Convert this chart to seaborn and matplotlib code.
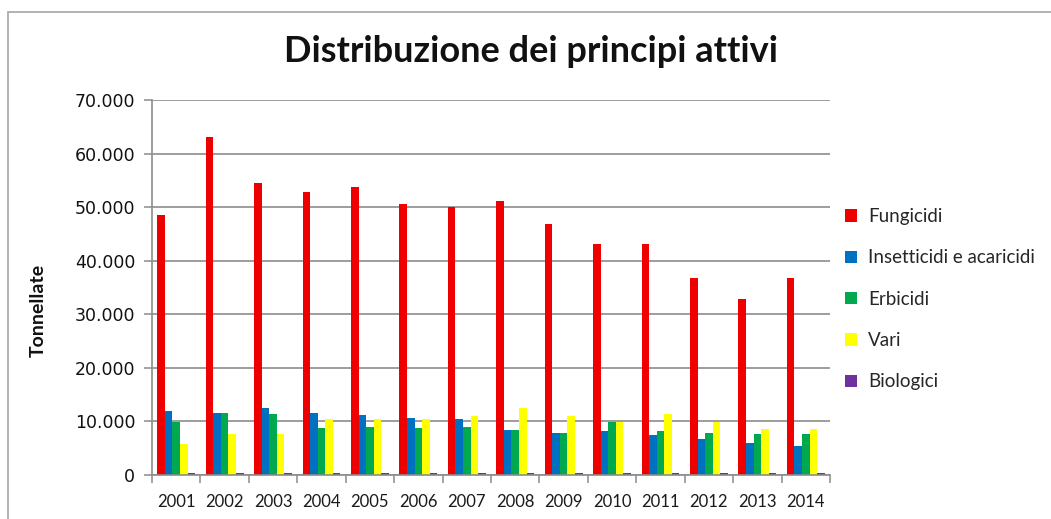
import matplotlib
matplotlib.use("Agg")
import matplotlib.pyplot as plt
import pandas as pd
import seaborn as sns
from matplotlib.patches import Rectangle
from matplotlib.ticker import FuncFormatter, FixedLocator

# Tonnes of active ingredients sold per year, by category
years = ["2001", "2002", "2003", "2004", "2005", "2006", "2007",
         "2008", "2009", "2010", "2011", "2012", "2013", "2014"]
fungicidi = [48500, 63150, 54600, 52900, 53800, 50650, 50100,
             51200, 46900, 43050, 43050, 36800, 32800, 36800]
insetticidi = [11950, 11650, 12600, 11650, 11200, 10700, 10450,
               8350, 7900, 8150, 7400, 6700, 5950, 5450]
erbicidi = [9950, 11650, 11450, 8850, 9000, 8850, 9000,
            8350, 7900, 9950, 8150, 7900, 7650, 7650]
vari = [5700, 7650, 7650, 10450, 10450, 10450, 11000,
        12450, 11000, 9950, 11400, 9950, 8600, 8600]
biologici = [300, 300, 300, 300, 300, 300, 300,
             300, 300, 300, 300, 300, 300, 300]

series_names = ["Fungicidi", "Insetticidi e acaricidi", "Erbicidi", "Vari", "Biologici"]
series_values = [fungicidi, insetticidi, erbicidi, vari, biologici]
colors = ["#EE0000", "#0070C0", "#00A850", "#FFFF00", "#7030A0"]

df = pd.DataFrame(
    [(y, name, v) for name, vals in zip(series_names, series_values)
     for y, v in zip(years, vals)],
    columns=["Anno", "Categoria", "Tonnellate"],
)

sns.set_theme(style="white")
plt.rcParams["font.family"] = ["Lato", "DejaVu Sans"]

W, H = 1051, 519
fig = plt.figure(figsize=(W / 100, H / 100), dpi=100)
fig.patch.set_facecolor("white")

# chart frame
fig.patches.append(Rectangle((8 / W, -0.05), 1.1, 1.05 - 12 / H,
                             transform=fig.transFigure, fill=False,
                             edgecolor="#A6A6A6", linewidth=1.2))

x0, x1, y0, y1 = 152, 830, 475, 100
ax = fig.add_axes([x0 / W, 1 - y0 / H, (x1 - x0) / W, (y0 - y1) / H])

sns.barplot(data=df, x="Anno", y="Tonnellate", hue="Categoria",
            hue_order=series_names, palette=colors, width=0.78,
            saturation=1, linewidth=0, ax=ax, errorbar=None)

ax.set_xlim(-0.5, len(years) - 0.5)
ax.set_ylim(0, 70000)
ax.yaxis.set_major_locator(FixedLocator(range(0, 70001, 10000)))
ax.yaxis.set_major_formatter(FuncFormatter(lambda v, p: f"{int(v):,}".replace(",", ".")))
ax.grid(axis="y", color="#8C8C8C", linewidth=1.2)
ax.set_axisbelow(True)

for side in ["top", "right"]:
    ax.spines[side].set_visible(False)
for side in ["left", "bottom"]:
    ax.spines[side].set_color("#8C8C8C")
    ax.spines[side].set_linewidth(1.2)

ax.tick_params(axis="y", which="major", left=True, length=6, width=1.1,
               color="#8C8C8C", pad=6, labelsize=12.5, labelcolor="#111111",
               labelfontfamily="DejaVu Sans")

# category separators on the x axis
ax.xaxis.set_minor_locator(FixedLocator([i - 0.5 for i in range(len(years) + 1)]))
ax.tick_params(axis="x", which="minor", bottom=True, length=6, width=1.1, color="#8C8C8C")
ax.tick_params(axis="x", which="major", bottom=False, length=0, pad=14,
               labelsize=12, labelcolor="#1A1A1A")

ax.set_xlabel("")
ax.set_ylabel("Tonnellate", fontsize=14, fontweight="bold", color="#111111")
ax.yaxis.set_label_coords(-(x0 - 47) / (x1 - x0), 0.44)

fig.text(531 / W, 1 - 52 / H, "Distribuzione dei principi attivi",
         ha="center", va="center", fontsize=26, fontweight="bold", color="#111111")

handles, labels = ax.get_legend_handles_labels()
ax.legend(handles, labels, loc="upper left",
          bbox_to_anchor=(845 / W, 1 - 208 / H), bbox_transform=fig.transFigure,
          frameon=False, fontsize=13.5, handlelength=0.65, handleheight=0.65,
          handletextpad=0.6, labelspacing=1.3, borderpad=0, borderaxespad=0)

fig.savefig("out.png", dpi=100, facecolor="white")
